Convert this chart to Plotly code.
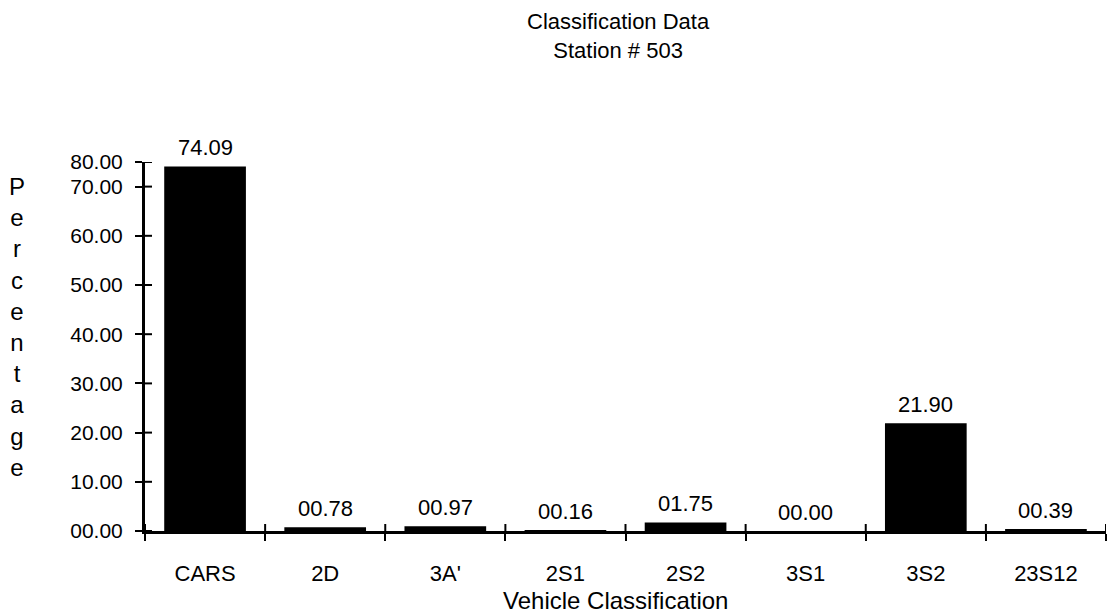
import plotly.graph_objects as go

categories = ["CARS", "2D", "3A'", "2S1", "2S2", "3S1", "3S2", "23S12"]
percentages = [74.09, 0.78, 0.97, 0.16, 1.75, 0.00, 21.90, 0.39]
y_tick_values = [0, 10, 20, 30, 40, 50, 60, 70, 75]
y_tick_labels = ["00.00", "10.00", "20.00", "30.00", "40.00", "50.00",
                 "60.00", "70.00", "80.00"]
title_lines = ["Classification Data", "Station # 503"]
x_title = "Vehicle Classification"
y_title = "Percentage"

FONT = "Liberation Sans, Arial, Helvetica, sans-serif"
Y_TOP = 75
n = len(categories)
boundaries = [i - 0.5 for i in range(n + 1)]

fig = go.Figure()
fig.add_trace(go.Bar(
    x=categories, y=percentages,
    marker=dict(color="black", line=dict(width=0)),
    width=0.68, cliponaxis=False, showlegend=False, hoverinfo="skip",
))

axis_common = dict(showgrid=False, zeroline=False, color="black")

label_annotations = [
    dict(text=f"{v:05.2f}", x=c, y=v, xref="x", yref="y",
         xanchor="center", yanchor="bottom", yshift=4, showarrow=False,
         font=dict(family=FONT, size=22, color="black"))
    for c, v in zip(categories, percentages)
]

# inward halves of the tick marks (outward halves come from the axes themselves)
tick_shapes = [
    dict(type="line", xref="x", yref="y", x0=b, x1=b,
         ysizemode="pixel", yanchor=0, y0=0, y1=7,
         line=dict(color="black", width=2))
    for b in boundaries
] + [
    dict(type="line", xref="x", yref="y", y0=v, y1=v,
         xsizemode="pixel", xanchor=-0.5, x0=0, x1=7,
         line=dict(color="black", width=2))
    for v in y_tick_values
]

fig.update_layout(
    width=1108, height=616,
    margin=dict(l=145, r=2, t=162, b=85),
    paper_bgcolor="white", plot_bgcolor="white",
    font=dict(family=FONT, color="black", size=22),
    xaxis=dict(
        type="category", range=[-0.5, n - 0.5],
        showline=True, linecolor="black", linewidth=3,
        ticks="outside", tickson="boundaries", ticklen=7, tickwidth=2, tickcolor="black",
        tickfont=dict(family=FONT, size=22, color="black"),
        ticklabelstandoff=21,
        **axis_common,
    ),
    yaxis=dict(
        range=[0, Y_TOP], tickvals=y_tick_values, ticktext=y_tick_labels,
        showline=True, linecolor="black", linewidth=3,
        ticks="outside", ticklen=7, tickwidth=2, tickcolor="black",
        tickfont=dict(family=FONT, size=21, color="black"),
        ticklabelstandoff=8,
        **axis_common,
    ),
    shapes=tick_shapes,
    annotations=label_annotations + [
        dict(text="<br>".join(title_lines), xref="paper", yref="paper",
             x=0.493, y=1.341, xanchor="center", yanchor="middle", showarrow=False,
             font=dict(family=FONT, size=22, color="black")),
        dict(text=x_title, xref="paper", yref="paper",
             x=0.490, y=-0.187, xanchor="center", yanchor="middle", showarrow=False,
             font=dict(family=FONT, size=24, color="black")),
        dict(text="<br>".join(list(y_title)), xref="paper", yref="paper",
             x=-0.1332, y=0.554, xanchor="center", yanchor="middle", showarrow=False,
             font=dict(family=FONT, size=24, color="black")),
    ],
)

fig.write_html("out.html")
